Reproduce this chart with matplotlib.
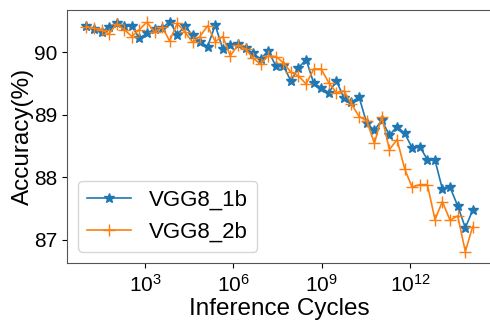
import matplotlib
matplotlib.use('Agg')
import matplotlib.pyplot as plt
import numpy as np

plt.rcParams['font.family'] = ['Liberation Sans', 'DejaVu Sans']
plt.rcParams['mathtext.fontset'] = 'custom'
plt.rcParams['mathtext.rm'] = 'Liberation Sans'
plt.rcParams['mathtext.it'] = 'Liberation Sans:italic'

# log10 of inference cycles
log_cycles = [1.00, 1.26, 1.52, 1.77, 2.03, 2.29, 2.55, 2.80, 3.06, 3.32,
              3.58, 3.83, 4.09, 4.35, 4.61, 4.86, 5.12, 5.38, 5.64, 5.89,
              6.15, 6.41, 6.67, 6.92, 7.18, 7.44, 7.70, 7.95, 8.21, 8.47,
              8.73, 8.98, 9.24, 9.50, 9.76, 10.01, 10.27, 10.53, 10.79, 11.04,
              11.30, 11.56, 11.82, 12.07, 12.33, 12.59, 12.85, 13.10, 13.36, 13.62,
              13.88, 14.13]

acc_1b = [90.42, 90.37, 90.33, 90.40, 90.47, 90.42, 90.42, 90.22, 90.30, 90.37,
          90.38, 90.49, 90.28, 90.42, 90.27, 90.17, 90.09, 90.43, 90.05, 90.11,
          90.13, 90.06, 89.98, 89.89, 90.02, 89.78, 89.78, 89.54, 89.75, 89.88,
          89.50, 89.43, 89.35, 89.54, 89.26, 89.20, 89.28, 88.86, 88.75, 88.91,
          88.67, 88.81, 88.70, 88.47, 88.49, 88.28, 88.27, 87.81, 87.84, 87.54,
          87.19, 87.47]

acc_2b = [90.41, 90.38, 90.36, 90.29, 90.45, 90.36, 90.25, 90.36, 90.48, 90.32,
          90.40, 90.18, 90.46, 90.32, 90.16, 90.25, 90.42, 90.17, 90.25, 89.94,
          90.11, 90.05, 89.90, 89.81, 89.94, 89.93, 89.83, 89.68, 89.62, 89.49,
          89.73, 89.73, 89.51, 89.35, 89.38, 89.17, 88.97, 88.90, 88.54, 88.97,
          88.44, 88.60, 88.13, 87.84, 87.88, 87.88, 87.32, 87.61, 87.31, 87.38,
          86.81, 87.21]

cycles = 10.0 ** np.array(log_cycles)

fig = plt.figure(figsize=(4.9, 3.23), dpi=100)
ax = fig.add_axes([67/490, 60/323, 425/490, 253/323])

ax.plot(cycles, acc_1b, marker='*', ms=7, lw=1.2, color='#1f77b4', label='VGG8_1b')
ax.plot(cycles, acc_2b, marker='+', ms=8, lw=1.2, color='#ff7f0e', label='VGG8_2b')

ax.set_xscale('log')
ax.set_xticks([1e3, 1e6, 1e9, 1e12])
ax.minorticks_off()
ax.set_yticks([87, 88, 89, 90])
ax.tick_params(labelsize=15)
ax.tick_params(axis='x', pad=4.5)

ax.set_xlabel('Inference Cycles', fontsize=17.5, labelpad=1.5)
ax.set_ylabel('Accuracy(%)', fontsize=17.5, labelpad=0)
ax.legend(loc='lower left', fontsize=16)

for s in ax.spines.values():
    s.set_color('#555555')
ax.spines['right'].set_visible(False)

plt.savefig('out.png', dpi=100)
